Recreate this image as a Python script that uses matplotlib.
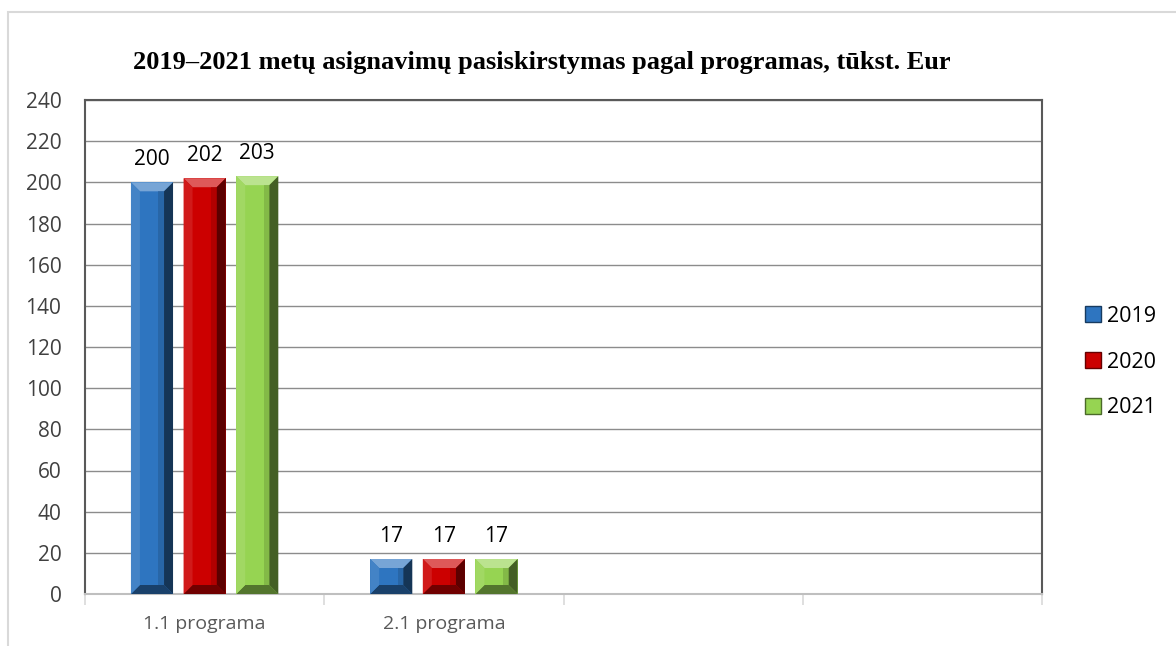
import matplotlib.pyplot as plt
import matplotlib.colors as mcolors
from matplotlib.patches import Polygon, Rectangle, Patch
import numpy as np

# data
programs = ["1.1 programa", "2.1 programa", "", ""]
years = ["2019", "2020", "2021"]
val_2019 = [200, 17]
val_2020 = [202, 17]
val_2021 = [203, 17]
series = [val_2019, val_2020, val_2021]
colors = ["#2E75C0", "#CC0000", "#96D452"]


def shade(c, f):
    r, g, b = mcolors.to_rgb(c)
    if f < 1:
        return (r * f, g * f, b * f)
    f = f - 1
    return (r + (1 - r) * f, g + (1 - g) * f, b + (1 - b) * f)


fig = plt.figure(figsize=(11.76, 6.46), dpi=100)
ax = fig.add_axes([85 / 1176, 1 - 594 / 646, (1042 - 85) / 1176, (594 - 100) / 646])

# outer chart frame (only left/top visible in the crop)
fig.add_artist(Rectangle((8 / 1176, -0.1), 1.2, 1 - 12 / 646 + 0.1, transform=fig.transFigure,
                         fill=False, edgecolor="#d9d9d9", linewidth=1.5))

x = np.arange(len(programs[:2]))
offs = [-0.22, 0.0, 0.22]
width = 0.176
bars = []
for i, (vals, col) in enumerate(zip(series, colors)):
    b = ax.bar(x + offs[i], vals, width, color=col, label=years[i], zorder=3)
    bars.append(b)
    for rect, v in zip(b, vals):
        ax.text(rect.get_x() + rect.get_width() / 2, v + 6, str(v), ha="center", va="bottom",
                fontsize=15, family="Open Sans", color="black", zorder=5)

ax.set_xlim(-0.5, 3.5)
ax.set_ylim(0, 240)
ax.set_yticks(range(0, 241, 20))
ax.set_xticks(range(4))
ax.set_xticklabels(programs)
ax.set_xticks(np.arange(-0.5, 4, 1), minor=True)
ax.tick_params(axis="x", which="major", length=0, pad=15, labelsize=14, labelcolor="#595959")
ax.tick_params(axis="x", which="minor", length=8, color="#d9d9d9", width=1.2)
ax.tick_params(axis="y", length=0, pad=17, labelsize=15, labelcolor="#404040")
for lab in ax.get_xticklabels() + ax.get_yticklabels():
    lab.set_family("Open Sans")
ax.grid(axis="y", color="#8c8c8c", linewidth=1, zorder=0)
for s in ["left", "top", "right"]:
    ax.spines[s].set_color("#595959")
    ax.spines[s].set_linewidth(1.5)
ax.spines["bottom"].set_color("#bfbfbf")
ax.spines["bottom"].set_linewidth(1.5)

# bevel effect on the bars
fig.canvas.draw()
inv = ax.transData.inverted()
for b, col in zip(bars, colors):
    for rect in b:
        bb = rect.get_window_extent()
        x0, y0, x1, y1 = bb.x0, bb.y0, bb.x1, bb.y1
        d = min(9, (x1 - x0) / 2, (y1 - y0) / 2)
        faces = [
            ([(x0, y1), (x1, y1), (x1 - d, y1 - d), (x0 + d, y1 - d)], shade(col, 1.35)),
            ([(x0, y0), (x1, y0), (x1 - d, y0 + d), (x0 + d, y0 + d)], shade(col, 0.55)),
            ([(x0, y0), (x0, y1), (x0 + d, y1 - d), (x0 + d, y0 + d)], shade(col, 1.1)),
            ([(x1, y0), (x1, y1), (x1 - d, y1 - d), (x1 - d, y0 + d)], shade(col, 0.45)),
        ]
        for pts, fc in faces:
            ax.add_patch(Polygon(inv.transform(pts), closed=True, facecolor=fc,
                                 edgecolor="none", zorder=4))
        # soft darkening toward right part of face
        xr = x1 - d
        xm = x0 + (x1 - x0) * 0.65
        if xr > xm:
            ax.add_patch(Polygon(inv.transform([(xm, y0 + d), (xr, y0 + d), (xr, y1 - d), (xm, y1 - d)]),
                                 closed=True, facecolor=shade(col, 0.75), alpha=0.5,
                                 edgecolor="none", zorder=4))

handles = [Patch(facecolor=c, edgecolor=shade(c, 0.5), label=y) for c, y in zip(colors, years)]
leg = fig.legend(handles=handles, loc="center left", bbox_to_anchor=(1070 / 1176, 1 - 362 / 646),
                 frameon=False, handlelength=0.75, handleheight=0.75, handletextpad=0.25,
                 labelspacing=1.15, borderpad=0.2, prop={"family": "Open Sans", "size": 15.5})

fig.suptitle("2019–2021 metų asignavimų pasiskirstymas pagal programas, tūkst. Eur",
             x=542 / 1176, y=1 - 63 / 646, va="center", fontsize=19, fontweight="bold",
             family="Liberation Serif")

fig.savefig("out.png", dpi=100)
